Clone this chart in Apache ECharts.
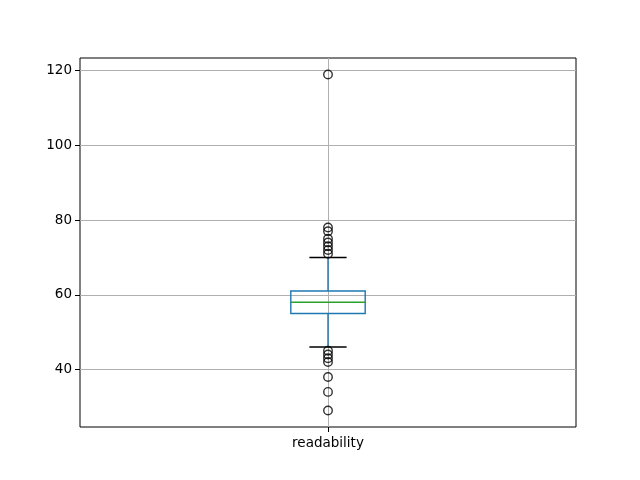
<!DOCTYPE html>
<html><head><meta charset="utf-8">
<script src="https://cdn.jsdelivr.net/npm/echarts@6/dist/echarts.min.js"></script>
<style>html,body{margin:0;padding:0;background:#fff}#c{width:640px;height:480px}</style>
</head><body><div id="c"></div>
<script>
const categories = ['readability'];
const whiskerLow = [46];
const q1 = [55];
const median = [58];
const q3 = [61];
const whiskerHigh = [70];
const outliers = [119, 78, 77, 75, 74, 73, 72, 71, 45, 44, 43, 42, 38, 34, 29];
const yTicks = [40, 60, 80, 100, 120];

const chart = echarts.init(document.getElementById('c'), null, {renderer: 'canvas'});
const font = 'DejaVu Sans';
const boxData = categories.map((c, i) => [i + 1, whiskerLow[i], q1[i], median[i], q3[i], whiskerHigh[i]]);
const outData = [];
categories.forEach((c, i) => outliers.forEach(v => outData.push([i + 1, v])));

chart.setOption({
  animation: false,
  grid: {left: 80, right: 64, top: 58, bottom: 53, show: true, borderColor: '#000', borderWidth: 1, backgroundColor: 'transparent'},
  xAxis: {
    type: 'value', min: 0.5, max: 1.5, interval: 0.5,
    axisLine: {show: false},
    axisTick: {show: true, length: 5, lineStyle: {color: '#000', width: 1}, customValues: [1]},
    axisLabel: {customValues: [1], formatter: v => categories[Math.round(v) - 1] || '', color: '#000', fontFamily: font, fontSize: 13.5, margin: 9},
    splitLine: {show: true, lineStyle: {color: '#b0b0b0', width: 1}}
  },
  yAxis: {
    type: 'value', min: 24.6, max: 123.4,
    axisLine: {show: false},
    axisTick: {show: true, length: 5, lineStyle: {color: '#000', width: 1}, customValues: yTicks},
    axisLabel: {customValues: yTicks, color: '#000', fontFamily: font, fontSize: 13.5, margin: 8},
    splitLine: {show: true, lineStyle: {color: '#b0b0b0', width: 1}}
  },
  series: [
    {
      type: 'custom',
      data: boxData,
      z: 3,
      renderItem: function (params, api) {
        const x = api.value(0);
        const half = api.size([0.15, 0])[0] / 2;
        const capHalf = half / 2;
        const pLow = api.coord([x, api.value(1)]);
        const pQ1 = api.coord([x, api.value(2)]);
        const pMed = api.coord([x, api.value(3)]);
        const pQ3 = api.coord([x, api.value(4)]);
        const pHigh = api.coord([x, api.value(5)]);
        const blue = '#1f77b4';
        const lw = 1.4;
        return {
          type: 'group',
          children: [
            {type: 'line', shape: {x1: pQ1[0], y1: pQ1[1], x2: pLow[0], y2: pLow[1]}, style: {stroke: blue, lineWidth: lw}},
            {type: 'line', shape: {x1: pQ3[0], y1: pQ3[1], x2: pHigh[0], y2: pHigh[1]}, style: {stroke: blue, lineWidth: lw}},
            {type: 'line', shape: {x1: pLow[0] - capHalf, y1: pLow[1], x2: pLow[0] + capHalf, y2: pLow[1]}, style: {stroke: '#000', lineWidth: lw}},
            {type: 'line', shape: {x1: pHigh[0] - capHalf, y1: pHigh[1], x2: pHigh[0] + capHalf, y2: pHigh[1]}, style: {stroke: '#000', lineWidth: lw}},
            {type: 'rect', shape: {x: pQ3[0] - half, y: pQ3[1], width: 2 * half, height: pQ1[1] - pQ3[1]}, style: {fill: 'none', stroke: blue, lineWidth: lw}},
            {type: 'line', shape: {x1: pMed[0] - half, y1: pMed[1], x2: pMed[0] + half, y2: pMed[1]}, style: {stroke: '#2ca02c', lineWidth: lw}}
          ]
        };
      }
    },
    {
      type: 'scatter',
      data: outData,
      symbol: 'circle',
      symbolSize: 8.5,
      z: 4,
      itemStyle: {color: 'rgba(0,0,0,0)', borderColor: '#000', borderWidth: 1.4}
    }
  ]
});
</script></body></html>
